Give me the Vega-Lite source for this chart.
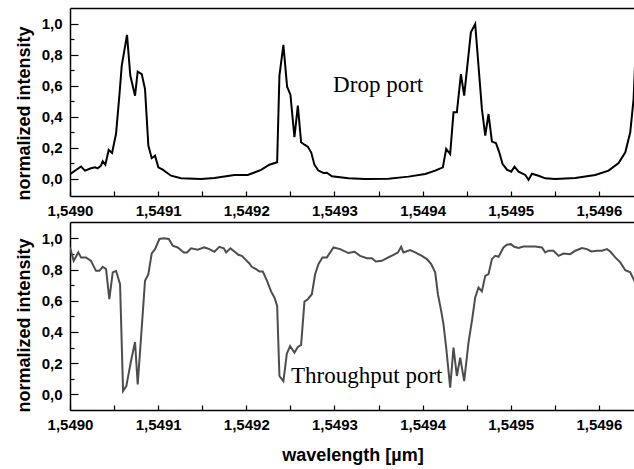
{
  "$schema": "https://vega.github.io/schema/vega-lite/v6.json",
  "padding": {"left": 15, "top": 8, "right": 0, "bottom": 2},
  "spacing": 4,
  "config": {
    "view": {"stroke": null},
    "axis": {
      "labelFont": "Liberation Sans", "labelFontWeight": "bold", "labelFontSize": 15, "labelColor": "#000",
      "titleFont": "Liberation Sans", "titleFontWeight": "bold", "titleFontSize": 18, "titleColor": "#000",
      "domainColor": "#000", "domainWidth": 1.5, "tickColor": "#000", "tickWidth": 1.2, "grid": false
    }
  },
  "datasets": {
    "drop": [
      {"w": 1.549, "i": 0.03}, {"w": 1.5490125, "i": 0.08}, {"w": 1.549017, "i": 0.054}, {"w": 1.5490238, "i": 0.069},
      {"w": 1.5490284, "i": 0.075}, {"w": 1.5490314, "i": 0.068}, {"w": 1.5490352, "i": 0.086}, {"w": 1.5490371, "i": 0.114},
      {"w": 1.5490401, "i": 0.092}, {"w": 1.5490439, "i": 0.187}, {"w": 1.5490477, "i": 0.168}, {"w": 1.5490522, "i": 0.29},
      {"w": 1.549056, "i": 0.537}, {"w": 1.5490587, "i": 0.731}, {"w": 1.5490647, "i": 0.93}, {"w": 1.5490684, "i": 0.667},
      {"w": 1.5490738, "i": 0.537}, {"w": 1.5490768, "i": 0.692}, {"w": 1.5490814, "i": 0.677}, {"w": 1.5490851, "i": 0.58},
      {"w": 1.5490889, "i": 0.215}, {"w": 1.5490927, "i": 0.134}, {"w": 1.5490965, "i": 0.15}, {"w": 1.5491002, "i": 0.075},
      {"w": 1.5491052, "i": 0.06}, {"w": 1.5491146, "i": 0.021}, {"w": 1.549126, "i": 0.004}, {"w": 1.5491487, "i": 0.0},
      {"w": 1.5491638, "i": 0.006}, {"w": 1.5491865, "i": 0.026}, {"w": 1.5492017, "i": 0.026}, {"w": 1.5492168, "i": 0.058},
      {"w": 1.5492262, "i": 0.092}, {"w": 1.549235, "i": 0.108}, {"w": 1.5492376, "i": 0.667}, {"w": 1.5492421, "i": 0.865},
      {"w": 1.5492463, "i": 0.595}, {"w": 1.5492501, "i": 0.544}, {"w": 1.5492546, "i": 0.269}, {"w": 1.5492585, "i": 0.473},
      {"w": 1.5492622, "i": 0.237}, {"w": 1.549266, "i": 0.221}, {"w": 1.5492698, "i": 0.208}, {"w": 1.5492736, "i": 0.172},
      {"w": 1.5492773, "i": 0.092}, {"w": 1.5492818, "i": 0.054}, {"w": 1.5492875, "i": 0.039}, {"w": 1.5492914, "i": 0.04},
      {"w": 1.5492971, "i": 0.017}, {"w": 1.5493159, "i": 0.004}, {"w": 1.5493348, "i": 0.0}, {"w": 1.5493613, "i": 0.002},
      {"w": 1.549384, "i": 0.015}, {"w": 1.549403, "i": 0.032}, {"w": 1.5494143, "i": 0.054}, {"w": 1.549423, "i": 0.075},
      {"w": 1.5494268, "i": 0.194}, {"w": 1.5494313, "i": 0.161}, {"w": 1.5494351, "i": 0.43}, {"w": 1.5494389, "i": 0.43},
      {"w": 1.5494435, "i": 0.677}, {"w": 1.5494472, "i": 0.537}, {"w": 1.5494548, "i": 0.946}, {"w": 1.5494597, "i": 1.0},
      {"w": 1.5494673, "i": 0.452}, {"w": 1.5494711, "i": 0.28}, {"w": 1.5494748, "i": 0.419}, {"w": 1.5494787, "i": 0.241},
      {"w": 1.5494832, "i": 0.232}, {"w": 1.549487, "i": 0.172}, {"w": 1.5494907, "i": 0.097}, {"w": 1.5494957, "i": 0.06},
      {"w": 1.5495006, "i": 0.047}, {"w": 1.5495043, "i": 0.079}, {"w": 1.5495089, "i": 0.047}, {"w": 1.5495165, "i": 0.026},
      {"w": 1.5495202, "i": -0.006}, {"w": 1.5495241, "i": 0.034}, {"w": 1.5495316, "i": 0.021}, {"w": 1.5495392, "i": 0.004},
      {"w": 1.5495505, "i": 0.0}, {"w": 1.5495732, "i": 0.006}, {"w": 1.5495959, "i": 0.026}, {"w": 1.549611, "i": 0.054},
      {"w": 1.5496224, "i": 0.103}, {"w": 1.54963, "i": 0.172}, {"w": 1.5496356, "i": 0.301}, {"w": 1.5496394, "i": 0.516},
      {"w": 1.5496413, "i": 0.774}
    ],
    "through": [
      {"w": 1.549, "i": 0.942}, {"w": 1.5490042, "i": 0.856}, {"w": 1.5490094, "i": 0.91}, {"w": 1.5490125, "i": 0.878},
      {"w": 1.5490182, "i": 0.878}, {"w": 1.5490238, "i": 0.856}, {"w": 1.5490295, "i": 0.792}, {"w": 1.5490333, "i": 0.792},
      {"w": 1.5490371, "i": 0.818}, {"w": 1.5490409, "i": 0.803}, {"w": 1.5490446, "i": 0.61}, {"w": 1.5490485, "i": 0.782},
      {"w": 1.5490522, "i": 0.792}, {"w": 1.5490568, "i": 0.706}, {"w": 1.5490602, "i": 0.021}, {"w": 1.5490639, "i": 0.053},
      {"w": 1.5490692, "i": 0.214}, {"w": 1.5490738, "i": 0.336}, {"w": 1.5490768, "i": 0.064}, {"w": 1.5490806, "i": 0.364},
      {"w": 1.5490851, "i": 0.728}, {"w": 1.5490889, "i": 0.771}, {"w": 1.5490927, "i": 0.904}, {"w": 1.5490965, "i": 0.931},
      {"w": 1.5491014, "i": 0.996}, {"w": 1.5491064, "i": 1.0}, {"w": 1.549112, "i": 0.996}, {"w": 1.5491166, "i": 0.953},
      {"w": 1.5491222, "i": 0.942}, {"w": 1.5491291, "i": 0.91}, {"w": 1.5491328, "i": 0.91}, {"w": 1.5491373, "i": 0.936},
      {"w": 1.5491449, "i": 0.927}, {"w": 1.5491524, "i": 0.942}, {"w": 1.5491581, "i": 0.931}, {"w": 1.5491638, "i": 0.914},
      {"w": 1.5491695, "i": 0.946}, {"w": 1.5491745, "i": 0.936}, {"w": 1.5491771, "i": 0.91}, {"w": 1.549182, "i": 0.936},
      {"w": 1.5491865, "i": 0.916}, {"w": 1.549191, "i": 0.895}, {"w": 1.5491949, "i": 0.888}, {"w": 1.5491986, "i": 0.867},
      {"w": 1.5492035, "i": 0.839}, {"w": 1.5492062, "i": 0.818}, {"w": 1.5492111, "i": 0.803}, {"w": 1.5492149, "i": 0.788},
      {"w": 1.5492187, "i": 0.788}, {"w": 1.5492236, "i": 0.728}, {"w": 1.5492281, "i": 0.66}, {"w": 1.5492319, "i": 0.621},
      {"w": 1.549235, "i": 0.567}, {"w": 1.5492376, "i": 0.118}, {"w": 1.5492421, "i": 0.085}, {"w": 1.549246, "i": 0.261},
      {"w": 1.5492497, "i": 0.31}, {"w": 1.5492546, "i": 0.268}, {"w": 1.5492585, "i": 0.304}, {"w": 1.5492622, "i": 0.317},
      {"w": 1.549266, "i": 0.595}, {"w": 1.5492698, "i": 0.61}, {"w": 1.5492744, "i": 0.642}, {"w": 1.5492781, "i": 0.77},
      {"w": 1.5492818, "i": 0.835}, {"w": 1.5492864, "i": 0.878}, {"w": 1.5492914, "i": 0.878}, {"w": 1.5492989, "i": 0.942},
      {"w": 1.5493065, "i": 0.931}, {"w": 1.5493159, "i": 0.906}, {"w": 1.5493227, "i": 0.914}, {"w": 1.5493292, "i": 0.888},
      {"w": 1.5493368, "i": 0.873}, {"w": 1.5493425, "i": 0.873}, {"w": 1.549347, "i": 0.852}, {"w": 1.5493538, "i": 0.856},
      {"w": 1.5493595, "i": 0.873}, {"w": 1.549367, "i": 0.895}, {"w": 1.549372, "i": 0.91}, {"w": 1.5493757, "i": 0.946},
      {"w": 1.5493783, "i": 0.91}, {"w": 1.5493859, "i": 0.925}, {"w": 1.5493916, "i": 0.91}, {"w": 1.5493992, "i": 0.888},
      {"w": 1.5494049, "i": 0.867}, {"w": 1.5494098, "i": 0.835}, {"w": 1.5494143, "i": 0.782}, {"w": 1.5494174, "i": 0.642},
      {"w": 1.5494211, "i": 0.535}, {"w": 1.5494237, "i": 0.45}, {"w": 1.5494268, "i": 0.3}, {"w": 1.5494313, "i": 0.043},
      {"w": 1.5494351, "i": 0.3}, {"w": 1.5494389, "i": 0.118}, {"w": 1.5494427, "i": 0.236}, {"w": 1.5494472, "i": 0.085},
      {"w": 1.5494521, "i": 0.332}, {"w": 1.549456, "i": 0.471}, {"w": 1.5494597, "i": 0.621}, {"w": 1.5494635, "i": 0.685},
      {"w": 1.5494673, "i": 0.66}, {"w": 1.5494711, "i": 0.76}, {"w": 1.5494748, "i": 0.771}, {"w": 1.5494787, "i": 0.867},
      {"w": 1.5494824, "i": 0.888}, {"w": 1.5494862, "i": 0.882}, {"w": 1.5494918, "i": 0.942}, {"w": 1.5494957, "i": 0.959},
      {"w": 1.5495002, "i": 0.963}, {"w": 1.549504, "i": 0.946}, {"w": 1.5495089, "i": 0.938}, {"w": 1.5495145, "i": 0.948},
      {"w": 1.5495278, "i": 0.948}, {"w": 1.5495354, "i": 0.942}, {"w": 1.5495392, "i": 0.91}, {"w": 1.5495429, "i": 0.921},
      {"w": 1.5495486, "i": 0.921}, {"w": 1.5495543, "i": 0.888}, {"w": 1.5495599, "i": 0.903}, {"w": 1.5495675, "i": 0.899},
      {"w": 1.5495732, "i": 0.921}, {"w": 1.5495808, "i": 0.938}, {"w": 1.5495865, "i": 0.931}, {"w": 1.5495914, "i": 0.916},
      {"w": 1.5495978, "i": 0.921}, {"w": 1.5496035, "i": 0.921}, {"w": 1.5496092, "i": 0.931}, {"w": 1.5496129, "i": 0.916},
      {"w": 1.5496186, "i": 0.878}, {"w": 1.5496243, "i": 0.846}, {"w": 1.54963, "i": 0.796}, {"w": 1.5496356, "i": 0.782},
      {"w": 1.5496413, "i": 0.717}
    ],
    "dropLabel": [{"w": 1.5492985, "i": 0.561, "label": "Drop port"}],
    "throughLabel": [{"w": 1.5492508, "i": 0.071, "label": "Throughput port"}]
  },
  "vconcat": [
    {
      "width": 565, "height": 188,
      "encoding": {
        "x": {"field": "w", "type": "quantitative", "scale": {"domain": [1.549, 1.549641], "nice": false, "zero": false},
          "axis": {"orient": "bottom", "title": null, "values": [1.549, 1.54905, 1.5491, 1.54915, 1.5492, 1.54925, 1.5493, 1.54935, 1.5494, 1.54945, 1.5495, 1.54955, 1.5496],
            "labelExpr": "round(datum.value*20000)%2==0 ? replace(format(datum.value,'.4f'),'.',',') : ''",
            "tickSize": -5, "labelPadding": 12, "labelFlush": false, "labelOverlap": false}},
        "y": {"field": "i", "type": "quantitative", "scale": {"domain": [-0.11, 1.103], "nice": false, "zero": false},
          "axis": {"orient": "left", "title": "normalized intensity", "values": [0, 0.1, 0.2, 0.3, 0.4, 0.5, 0.6, 0.7, 0.8, 0.9, 1.0],
            "labelExpr": "round(datum.value*10)%2==0 ? replace(format(datum.value,'.1f'),'.',',') : ''",
            "tickSize": {"condition": {"test": "round(datum.value*10)%2==0", "value": -8}, "value": -4},
            "labelPadding": 16, "titlePadding": 8, "titleY": 105, "labelOverlap": false, "labelFlush": false}}
      },
      "layer": [
        {
          "data": {"name": "drop"},
          "mark": {"type": "line", "color": "#000", "strokeWidth": 2, "clip": true}
        },
        {
          "data": {"name": "drop"},
          "mark": {"type": "line", "opacity": 0},
          "encoding": {
            "x": {"field": "w", "type": "quantitative", "scale": {"domain": [1.549, 1.549641], "nice": false, "zero": false},
              "axis": {"orient": "top", "title": null, "labels": false, "ticks": false, "domain": true}}
          }
        },
        {
          "data": {"name": "dropLabel"},
          "mark": {"type": "text", "font": "Liberation Serif", "fontSize": 23, "color": "#000", "align": "left", "baseline": "alphabetic"},
          "encoding": {
            "x": {"field": "w", "type": "quantitative", "axis": null},
            "text": {"field": "label"}
          }
        }
      ],
      "resolve": {"axis": {"x": "independent"}}
    },
    {
      "width": 565, "height": 188,
      "encoding": {
        "x": {"field": "w", "type": "quantitative", "scale": {"domain": [1.549, 1.549641], "nice": false, "zero": false},
          "axis": {"orient": "bottom", "title": "wavelength [µm]", "titlePadding": 14, "values": [1.549, 1.54905, 1.5491, 1.54915, 1.5492, 1.54925, 1.5493, 1.54935, 1.5494, 1.54945, 1.5495, 1.54955, 1.5496],
            "labelExpr": "round(datum.value*20000)%2==0 ? replace(format(datum.value,'.4f'),'.',',') : ''",
            "tickSize": -5, "labelPadding": 12, "labelFlush": false, "labelOverlap": false}},
        "y": {"field": "i", "type": "quantitative", "scale": {"domain": [-0.1, 1.105], "nice": false, "zero": false},
          "axis": {"orient": "left", "title": "normalized intensity", "values": [0, 0.1, 0.2, 0.3, 0.4, 0.5, 0.6, 0.7, 0.8, 0.9, 1.0],
            "labelExpr": "round(datum.value*10)%2==0 ? replace(format(datum.value,'.1f'),'.',',') : ''",
            "tickSize": {"condition": {"test": "round(datum.value*10)%2==0", "value": -8}, "value": -4},
            "labelPadding": 16, "titlePadding": 8, "titleY": 103, "labelOverlap": false, "labelFlush": false}}
      },
      "layer": [
        {
          "data": {"name": "through"},
          "mark": {"type": "line", "color": "#4d4d4d", "strokeWidth": 2, "clip": true}
        },
        {
          "data": {"name": "through"},
          "mark": {"type": "line", "opacity": 0},
          "encoding": {
            "x": {"field": "w", "type": "quantitative", "scale": {"domain": [1.549, 1.549641], "nice": false, "zero": false},
              "axis": {"orient": "top", "title": null, "labels": false, "ticks": false, "domain": true}}
          }
        },
        {
          "data": {"name": "throughLabel"},
          "mark": {"type": "text", "font": "Liberation Serif", "fontSize": 23, "color": "#000", "align": "left", "baseline": "alphabetic"},
          "encoding": {
            "x": {"field": "w", "type": "quantitative", "axis": null},
            "text": {"field": "label"}
          }
        }
      ],
      "resolve": {"axis": {"x": "independent"}}
    }
  ]
}
